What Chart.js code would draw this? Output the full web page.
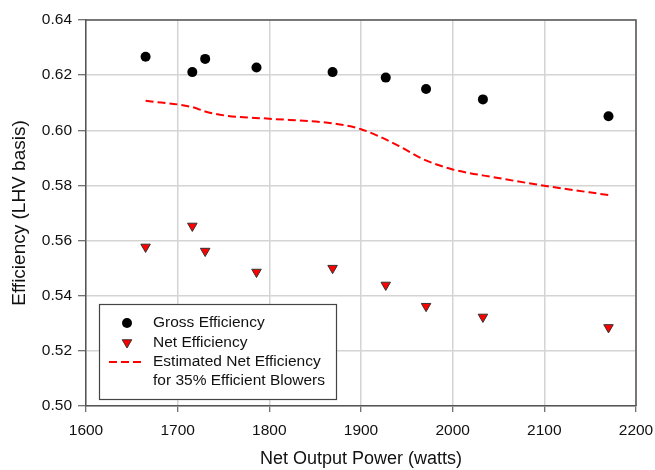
<!DOCTYPE html>
<html>
<head>
<meta charset="utf-8">
<script src="https://cdn.jsdelivr.net/npm/chart.js@4"></script>
<style>
  html, body { margin: 0; padding: 0; background: #fff; }
  #wrap { width: 655px; height: 470px; }
</style>
</head>
<body>
<div id="wrap"><canvas id="c" width="655" height="470"></canvas></div>
<script>
// ---- data ----
const powerPoints   = [1665, 1716, 1730, 1786, 1869, 1927, 1971, 2033, 2170];
const grossEff      = [0.6267, 0.6211, 0.6259, 0.6228, 0.6211, 0.6191, 0.6150, 0.6112, 0.6051];
const netEff        = [0.5577, 0.5653, 0.5562, 0.5486, 0.5500, 0.5439, 0.5362, 0.5323, 0.5285];
const estPower      = [1665, 1716, 1730, 1755, 1800, 1869, 1900, 1939, 1968, 2000, 2048, 2100, 2170];
const estNetEff     = [0.6107, 0.6084, 0.6068, 0.6052, 0.6042, 0.6025, 0.6004, 0.5947, 0.5895, 0.5858, 0.5828, 0.5799, 0.5765];
const xTicks        = [1600, 1700, 1800, 1900, 2000, 2100, 2200];
const yTicks        = [0.50, 0.52, 0.54, 0.56, 0.58, 0.60, 0.62, 0.64];
const seriesLabels  = ['Gross Efficiency', 'Net Efficiency', ['Estimated Net Efficiency', 'for 35% Efficient Blowers']];
const xTitle = 'Net Output Power (watts)';
const yTitle = 'Efficiency (LHV basis)';

const FONT = "'Liberation Sans', Arial, sans-serif";

function pairs(xs, ys) { return xs.map((x, i) => ({ x: x, y: ys[i] })); }

const frameAndLegend = {
  id: 'frameAndLegend',
  afterDatasetsDraw(chart) {
    const ctx = chart.ctx;
    const a = chart.chartArea;
    ctx.save();
    // plot frame (top & right edges)
    ctx.strokeStyle = '#555';
    ctx.lineWidth = 1.5;
    ctx.beginPath();
    ctx.moveTo(a.left, a.top);
    ctx.lineTo(a.right, a.top);
    ctx.lineTo(a.right, a.bottom);
    ctx.stroke();

    // legend box inside plot
    const bx = a.left + 13, by = a.bottom - 102, bw = 237, bh = 95;
    ctx.fillStyle = '#fff';
    ctx.fillRect(bx, by, bw, bh);
    ctx.strokeStyle = '#444';
    ctx.lineWidth = 1.2;
    ctx.strokeRect(bx + 0.5, by + 0.5, bw, bh);

    const ds = chart.data.datasets;
    const mx = bx + 28, tx = bx + 54;
    const rows = [by + 19, by + 38.5, by + 58];
    ctx.font = '15.5px ' + FONT;
    ctx.textBaseline = 'middle';
    ctx.textAlign = 'left';
    // gross
    ctx.fillStyle = '#000';
    ctx.beginPath(); ctx.arc(mx, rows[0], 5, 0, Math.PI * 2); ctx.fill();
    // net
    ctx.fillStyle = ds[1].pointBackgroundColor;
    ctx.strokeStyle = ds[1].pointBorderColor;
    ctx.lineWidth = 1;
    Chart.helpers.drawPoint(ctx, { pointStyle: 'triangle', radius: 5.5, rotation: 180, borderWidth: 1 }, mx, rows[1]);
    // estimated line
    ctx.strokeStyle = ds[2].borderColor;
    ctx.lineWidth = 2;
    ctx.setLineDash(ds[2].borderDash);
    ctx.beginPath(); ctx.moveTo(bx + 10, rows[2]); ctx.lineTo(bx + 46, rows[2]); ctx.stroke();
    ctx.setLineDash([]);

    ctx.fillStyle = '#111';
    ctx.fillText(seriesLabels[0], tx, rows[0]);
    ctx.fillText(seriesLabels[1], tx, rows[1]);
    ctx.fillText(seriesLabels[2][0], tx, rows[2]);
    ctx.fillText(seriesLabels[2][1], tx, rows[2] + 18.5);
    ctx.restore();
  }
};

new Chart(document.getElementById('c'), {
  type: 'scatter',
  data: {
    datasets: [
      {
        label: 'Gross Efficiency',
        data: pairs(powerPoints, grossEff),
        pointStyle: 'circle',
        pointRadius: 5,
        pointBackgroundColor: '#000',
        pointBorderColor: '#000',
        pointBorderWidth: 0,
        showLine: false
      },
      {
        label: 'Net Efficiency',
        data: pairs(powerPoints, netEff),
        pointStyle: 'triangle',
        pointRotation: 180,
        pointRadius: 5.5,
        pointBackgroundColor: '#ff0000',
        pointBorderColor: '#333',
        pointBorderWidth: 1,
        showLine: false
      },
      {
        label: 'Estimated Net Efficiency for 35% Efficient Blowers',
        data: pairs(estPower, estNetEff),
        showLine: true,
        pointRadius: 0,
        borderColor: '#ff0000',
        borderWidth: 2,
        borderDash: [8, 4],
        cubicInterpolationMode: 'monotone',
        fill: false
      }
    ]
  },
  options: {
    responsive: false,
    animation: false,
    layout: { padding: { top: 20, right: 19, left: 0, bottom: 0 } },
    plugins: { legend: { display: false }, tooltip: { enabled: false } },
    scales: {
      x: {
        type: 'linear',
        min: xTicks[0],
        max: xTicks[xTicks.length - 1],
        afterBuildTicks: (s) => { s.ticks = xTicks.map(v => ({ value: v })); },
        afterFit: (s) => { s.height = 64; s.paddingLeft = 0; s.paddingRight = 0; },
        ticks: { color: '#111', font: { family: FONT, size: 15.5 }, padding: 9, maxRotation: 0,
                 callback: (v) => String(v) },
        grid: { color: '#d4d4d4', lineWidth: 1.5, tickColor: '#444', tickLength: 6, tickWidth: 1 },
        border: { color: '#555', width: 1.5 },
        title: { display: true, text: xTitle, color: '#111', font: { family: FONT, size: 18 }, padding: { top: 0, bottom: 0 } }
      },
      y: {
        type: 'linear',
        min: yTicks[0],
        max: yTicks[yTicks.length - 1],
        afterBuildTicks: (s) => { s.ticks = yTicks.map(v => ({ value: v })); },
        afterFit: (s) => { s.width = 86; s.paddingTop = 0; s.paddingBottom = 0; },
        ticks: { color: '#111', font: { family: FONT, size: 15.5 }, padding: 6,
                 callback: (v) => Number(v).toFixed(2) },
        grid: { color: '#d4d4d4', lineWidth: 1.5, tickColor: '#444', tickLength: 8, tickWidth: 1 },
        border: { color: '#555', width: 1.5 },
        title: { display: true, text: yTitle, color: '#111', font: { family: FONT, size: 19 }, padding: { top: 8, bottom: 0 } }
      }
    }
  },
  plugins: [frameAndLegend]
});
</script>
</body>
</html>
